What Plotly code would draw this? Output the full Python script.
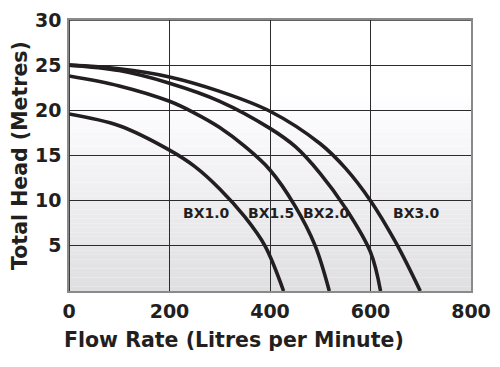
import plotly.graph_objects as go

# ---- data ----
bx10_flow = [0, 100, 200, 250, 300, 350, 390, 427]
bx10_head = [19.6, 18.3, 15.6, 13.8, 11.3, 8.2, 5.0, 0]

bx15_flow = [0, 100, 200, 250, 300, 350, 400, 450, 490, 518]
bx15_head = [23.8, 22.7, 21.0, 19.7, 18.1, 16.0, 13.4, 9.4, 5.0, 0]

bx20_flow = [0, 100, 200, 300, 400, 450, 500, 550, 600, 620]
bx20_head = [25.0, 24.4, 23.0, 21.0, 18.0, 16.0, 13.0, 9.2, 4.3, 0]

bx30_flow = [0, 100, 200, 300, 400, 500, 550, 600, 650, 699]
bx30_head = [25.0, 24.6, 23.7, 22.1, 19.9, 16.3, 13.6, 10.0, 5.4, 0]

series_names = ["BX1.0", "BX1.5", "BX2.0", "BX3.0"]
x_ticks = [0, 200, 400, 600, 800]
y_ticks = [5, 10, 15, 20, 25, 30]

x_title = "Flow Rate (Litres per Minute)"
y_title = "Total Head (Metres)"

# ---- figure ----
INK = "#231f20"
GRID = "#2b2b2b"
FONT = "DejaVu Sans"

# the page body has an 8px default margin, so the figure is sized/placed for it
OFF = 8
W, H = 500 - OFF, 367 - OFF
ML, MT = 69 - OFF, 20 - OFF
MR = W - (471 - OFF)
MB = H - (291 - OFF)
pw, ph = W - ML - MR, H - MT - MB

fig = go.Figure()

series = [(bx10_flow, bx10_head), (bx15_flow, bx15_head),
          (bx20_flow, bx20_head), (bx30_flow, bx30_head)]
for name, (fx, hy) in zip(series_names, series):
    fig.add_trace(go.Scatter(
        x=fx, y=hy, name=name, mode="lines",
        line=dict(color=INK, width=3.6, shape="spline", smoothing=1.0),
        hoverinfo="x+y+name", showlegend=False, cliponaxis=False))

# background vertical gradient (white at top -> light grey at bottom)
shapes = []
n_bands = 44
top = 22.0
for i in range(n_bands):
    y0 = top * i / n_bands
    y1 = top * (i + 1) / n_bands
    t = (y0 + y1) / 2 / top
    g = int(round(223 + (255 - 223) * t))
    shapes.append(dict(type="rect", xref="x", yref="y", x0=0, x1=800,
                       y0=y0, y1=y1, layer="below",
                       fillcolor=f"rgb({g},{g},{min(g + 2, 255)})",
                       line=dict(width=0)))
# dark left and top borders
shapes.append(dict(type="line", xref="x", yref="y", x0=0, x1=0, y0=0, y1=30,
                   line=dict(color=GRID, width=1.8), layer="above"))
shapes.append(dict(type="line", xref="x", yref="y", x0=0, x1=800, y0=30, y1=30,
                   line=dict(color=GRID, width=1.5), layer="above"))

label_pos = {"BX1.0": (273, 8.6), "BX1.5": (401, 8.6),
             "BX2.0": (513, 8.6), "BX3.0": (692, 8.6)}
annotations = []
for name in series_names:
    lx, ly = label_pos[name]
    annotations.append(dict(x=lx, y=ly, xref="x", yref="y", text=name,
                            showarrow=False,
                            font=dict(family=FONT, size=14, color=INK,
                                      weight="bold")))


def px_to_paper(px, py):
    # screen pixel -> paper coords
    return (px - OFF - ML) / pw, (H - MB - (py - OFF)) / ph


tx, ty = px_to_paper(234, 340)
annotations.append(dict(x=tx, y=ty, xref="paper", yref="paper", text=x_title,
                        showarrow=False, xanchor="center", yanchor="middle",
                        font=dict(family=FONT, size=20.5, color=INK, weight="bold")))
tx, ty = px_to_paper(20, 156)
annotations.append(dict(x=tx, y=ty, xref="paper", yref="paper", text=y_title,
                        showarrow=False, textangle=-90,
                        xanchor="center", yanchor="middle",
                        font=dict(family=FONT, size=20.5, color=INK, weight="bold")))

fig.update_layout(
    width=W, height=H,
    margin=dict(l=ML, r=MR, t=MT, b=MB, autoexpand=False),
    paper_bgcolor="white", plot_bgcolor="white",
    shapes=shapes, annotations=annotations,
    font=dict(family=FONT, color=INK),
)
fig.update_xaxes(range=[0, 800], tickvals=x_ticks, automargin=False,
                 showgrid=True, gridcolor=GRID, gridwidth=1.4,
                 zeroline=False, showline=True, linecolor="#8a8a8a",
                 linewidth=1.6, mirror=True, ticks="",
                 tickfont=dict(family=FONT, size=19, color=INK, weight="bold"),
                 ticklabelstandoff=2, fixedrange=True)
fig.update_yaxes(range=[0, 30], tickvals=y_ticks, automargin=False,
                 showgrid=True, gridcolor=GRID, gridwidth=1.4,
                 zeroline=False, showline=True, linecolor="#8a8a8a",
                 linewidth=1.6, mirror=True, ticks="",
                 tickfont=dict(family=FONT, size=19, color=INK, weight="bold"),
                 ticklabelstandoff=2, fixedrange=True)

fig.write_html("out.html")
